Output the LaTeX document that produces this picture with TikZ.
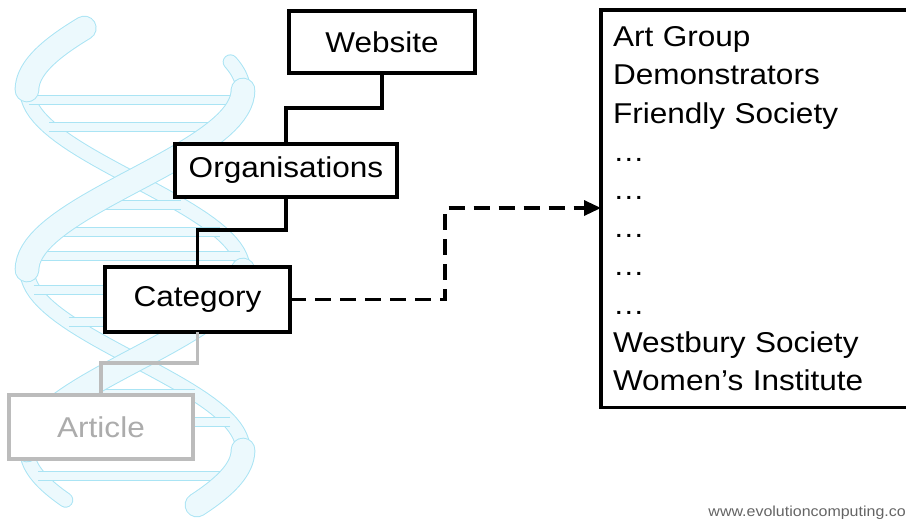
\documentclass[tikz,border=0pt]{standalone}
\usepackage{fontspec}
\setmainfont{Liberation Sans}[FakeStretch=1.1]
\usetikzlibrary{arrows.meta}
\definecolor{dnaline}{RGB}{170,228,244}
\definecolor{dnafill}{RGB}{236,249,253}
\definecolor{artgray}{RGB}{188,188,188}
\definecolor{arttext}{RGB}{172,172,172}
\definecolor{foot}{RGB}{100,100,100}
\tikzset{
  box/.style={draw=black, line width=2.5pt, fill=white, outer sep=0pt, inner sep=0pt,
    font=\fontsize{21.5}{26}\selectfont},
  graybox/.style={box, draw=artgray, text=arttext},
  conn/.style={line width=2.5pt, line join=miter},
  grayconn/.style={conn, draw=artgray},
  dashconn/.style={line width=2.5pt, dash pattern=on 12pt off 6.75pt,
    -{Triangle[length=12.75pt,width=11.25pt]}},
  listbox/.style={draw=black, line width=2.5pt, fill=white, outer sep=0pt,
    anchor=north west, text width=225pt, align=left, inner xsep=9pt, inner ysep=12.4pt,
    font=\fontsize{21.5}{28.67}\selectfont},
  urltext/.style={anchor=base east, text=foot, inner sep=0pt, font=\fontsize{10.9}{13}\selectfont},
}
\newcommand\dnaribbon[4]{% sign, start, end, width (pt)
  \draw[dnaline, line width=#4pt+1.5pt, line cap=round]
    plot[domain=#2:#3, samples=40, variable=\t] ({135+#1*108*cos(\t-90)},\t);
  \draw[dnafill, line width=#4pt, line cap=round]
    plot[domain=#2:#3, samples=40, variable=\t] ({135+#1*108*cos(\t-90)},\t);
}
\begin{document}
\begin{tikzpicture}[x=0.75pt, y=-0.75pt]
\useasboundingbox (0,0) rectangle (906,522);
\clip (0,0) rectangle (906,522);
% DNA helix (background)
\dnaribbon{1}{62}{90}{10}
\dnaribbon{1}{270}{450}{10}
\dnaribbon{-1}{90}{270}{10}
\dnaribbon{-1}{450}{500}{10}
\foreach \yy in {100,127,205,232,256,290,322,394,422,476} {
  \draw[dnaline, line width=7.5pt] ({135+108*cos(\yy-90)},\yy) -- ({135-108*cos(\yy-90)},\yy);
  \draw[dnafill, line width=6pt] ({135+108*cos(\yy-90)},\yy) -- ({135-108*cos(\yy-90)},\yy);
}
\dnaribbon{1}{90}{270}{17}
\dnaribbon{1}{450}{505}{17}
\dnaribbon{-1}{28}{90}{17}
\dnaribbon{-1}{270}{450}{17}
% boxes
\node[box, minimum width=139.5pt, minimum height=46.5pt] (web) at (382,42) {Website};
\node[box, minimum width=166.5pt, minimum height=39.75pt] (org) at (286,170.5) {Organisations};
\node[box, minimum width=138.75pt, minimum height=48.75pt] (cat) at (197.5,299.5) {Category};
\node[graybox, minimum width=138pt, minimum height=48pt] (art) at (101,427) {Article};
\node[listbox] (list) at (601,10) {Art Group\\Demonstrators\\Friendly Society\\…\\…\\…\\…\\…\\Westbury Society\\Women’s Institute};
\node[urltext] (url) at (906,516) {www.evolutioncomputing.co};
% connectors
\coordinate (h1) at (0,108);
\coordinate (h2) at (0,230);
\coordinate (h3) at (0,363);
\coordinate (d1) at (445,208);
\draw[conn] (web.south) -- (web.south |- h1) -| (org.north);
\draw[conn] (org.south) -- (org.south |- h2) -| (cat.north);
\draw[grayconn] (cat.south) -- (cat.south |- h3) -| (art.north);
\draw[dashconn] (cat.east) -| (d1) -- (d1 -| list.west);
\end{tikzpicture}
\end{document}
